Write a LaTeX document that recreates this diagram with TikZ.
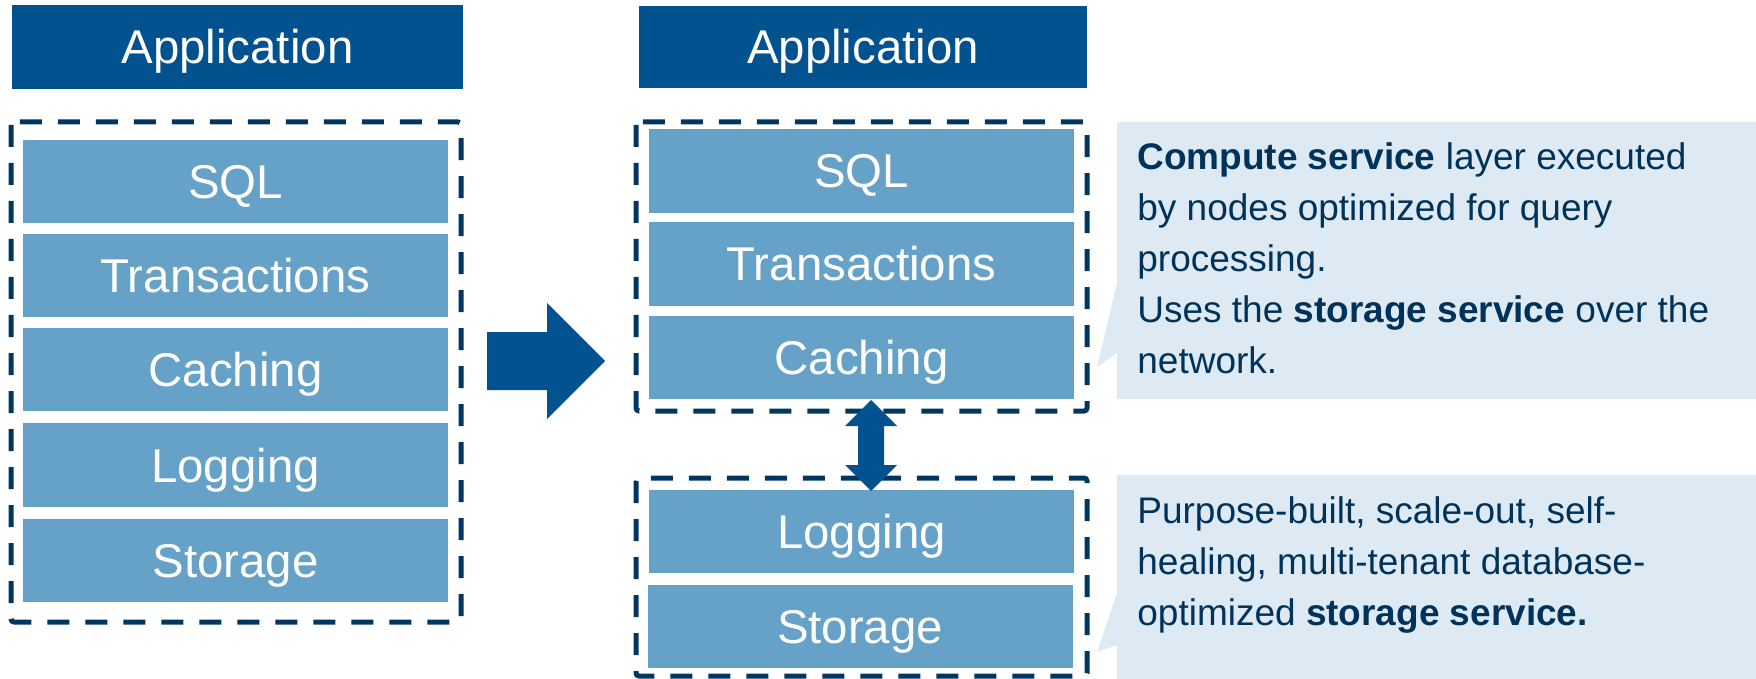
\documentclass[tikz,border=0pt]{standalone}
\usepackage{fontspec}
\setmainfont{Liberation Sans}
\usepackage{tikz}
\definecolor{appblue}{RGB}{2,82,144}
\definecolor{layerblue}{RGB}{102,161,200}
\definecolor{dashnavy}{RGB}{0,54,96}
\definecolor{notebg}{RGB}{221,234,243}
\definecolor{notetext}{RGB}{0,50,90}
\tikzstyle{app} = [fill=appblue, text=white, inner sep=0pt, text height=17pt, text depth=0pt, font=\fontsize{23.7}{28}\selectfont]
\tikzstyle{layer} = [fill=layerblue, text=white, inner sep=0pt, text height=17pt, text depth=0pt, minimum width=212.5pt, minimum height=41.75pt, font=\fontsize{23.7}{28}\selectfont]
\tikzstyle{frame} = [draw=dashnavy, line width=2.5pt, dash pattern=on 11pt off 8pt, rounded corners=1.5pt]
\tikzstyle{note} = [align=left, inner sep=0pt, text=notetext, font=\fontsize{18.5}{25.5}\selectfont]

\begin{document}
\begin{tikzpicture}[x=0.5pt, y=-0.5pt]
  \useasboundingbox (0,0) rectangle (1756,679);

  % monolithic stack
  \node [app, minimum width=225.5pt, minimum height=42pt] (lapp) at (237.5,47) {Application};
  \draw [frame] (11,122) rectangle (461,622);
  \node [layer] (lsql)   at (235.5,181.5) {SQL};
  \node [layer] (ltrans) at (235.5,275.5) {Transactions};
  \node [layer] (lcache) at (235.5,369.5) {Caching};
  \node [layer] (llog)   at (235.5,465)   {Logging};
  \node [layer] (lstore) at (235.5,560.5) {Storage};

  % big arrow
  \fill [appblue] (487,332) -- (547,332) -- (547,303) -- (605,361)
    -- (547,419) -- (547,390) -- (487,390) -- cycle;

  % split stack
  \node [app, minimum width=224pt, minimum height=41pt] (rapp) at (863,47) {Application};
  \draw [frame] (636,122) rectangle (1087,411);
  \node [layer] (rsql)   at (861.5,171)   {SQL};
  \node [layer] (rtrans) at (861.5,264)   {Transactions};
  \node [layer] (rcache) at (861.5,357.5) {Caching};
  \draw [frame] (636,478) rectangle (1087,676);
  \node [layer] (rlog)   at (861.5,531.5) {Logging};
  \node [layer] (rstore) at (860,626.5)   {Storage};

  % double arrow
  \fill [appblue] (871,400) -- (897,426) -- (884,426) -- (884,465) -- (897,465)
    -- (871,491) -- (845,465) -- (858,465) -- (858,426) -- (845,426) -- cycle;

  % callouts
  \fill [notebg] (1117,122) -- (1756,122) -- (1756,399) -- (1117,399)
    -- (1117,353) -- (1097,367) -- (1117,283) -- cycle;
  \node [note, anchor=base west] (cnote) at (1137,373)
    {\textbf{Compute service} layer executed\\
     by nodes optimized for query\\
     processing.\\
     Uses the \textbf{storage service} over the\\
     network.};

  \fill [notebg] (1117,475) -- (1756,475) -- (1756,679) -- (1117,679)
    -- (1117,645) -- (1097,652) -- (1117,593) -- cycle;
  \node [note, anchor=base west] (snote) at (1137,625)
    {Purpose-built, scale-out, self-\\
     healing, multi-tenant database-\\
     optimized \textbf{storage service.}};
\end{tikzpicture}
\end{document}
